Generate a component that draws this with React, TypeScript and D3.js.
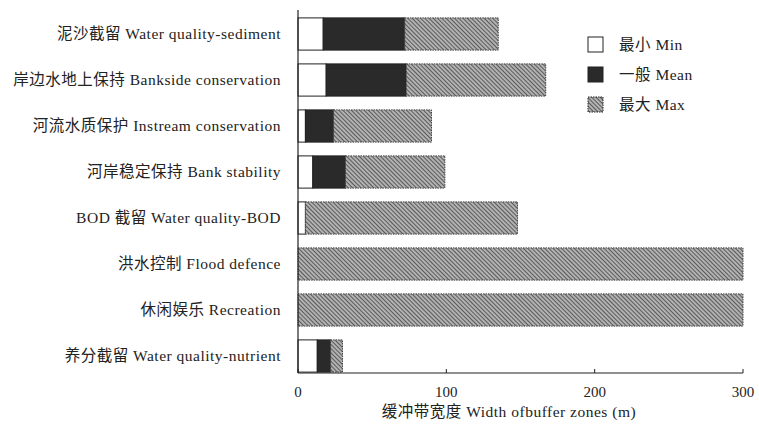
import React from "react";
import * as d3 from "d3";

const categories = [
  "泥沙截留 Water quality-sediment",
  "岸边水地上保持 Bankside conservation",
  "河流水质保护 Instream conservation",
  "河岸稳定保持 Bank stability",
  "BOD 截留 Water quality-BOD",
  "洪水控制 Flood defence",
  "休闲娱乐 Recreation",
  "养分截留 Water quality-nutrient",
];
const minVals = [17, 19, 5, 10, 5, 0, 0, 13];
const meanVals = [72, 73, 24, 32, 5, 0, 0, 22];
const maxVals = [135, 167, 90, 99, 148, 300, 300, 30];
const xTicks = [0, 100, 200, 300];
const legendLabels = ["最小 Min", "一般 Mean", "最大 Max"];

const W = 759, H = 429;
const FONT = "'Liberation Serif', 'Noto Sans CJK SC', serif";

export default function App() {
  const x = d3.scaleLinear().domain([0, 300]).range([298, 743]);
  const y = d3.scaleBand<string>().domain(categories).range([11, 379]).paddingInner(0.3).paddingOuter(0.15);
  const axisY = 373;
  const fills = ["#ffffff", "#2a2a2a", "url(#hatch)"];
  return (
    <svg width={W} height={H} style={{ position: "absolute", left: 0, top: 0, background: "#fff" }} fontFamily={FONT}>
      <defs>
        <pattern id="hatch" patternUnits="userSpaceOnUse" width={3} height={3} patternTransform="rotate(45)">
          <rect width={3} height={3} fill="#b4b4b4" />
          <line x1={0} y1={0.5} x2={3} y2={0.5} stroke="#5a5a5a" strokeWidth={1.1} />
        </pattern>
      </defs>
      {categories.map((c, i) => {
        const segs = [
          [0, minVals[i]],
          [minVals[i], meanVals[i]],
          [meanVals[i], maxVals[i]],
        ];
        const y0 = y(c)!;
        const bh = y.bandwidth();
        return (
          <g key={c}>
            {segs.map(([a, b], k) =>
              b > a ? (
                <rect
                  key={k}
                  x={x(a)}
                  y={y0}
                  width={x(b) - x(a)}
                  height={bh}
                  fill={fills[k]}
                  stroke={k === 2 ? "#444" : "#222"}
                  strokeWidth={1}
                  strokeDasharray={k === 2 ? "1.5,1" : undefined}
                />
              ) : null
            )}
            <text x={281} y={y0 + bh / 2} dy="0.35em" textAnchor="end" fontSize={15.5} letterSpacing={0.5} fill="#222">
              {c}
            </text>
          </g>
        );
      })}
      {/* axes */}
      <line x1={298} y1={10} x2={298} y2={axisY} stroke="#222" strokeWidth={1.2} />
      <line x1={298} y1={axisY} x2={x(300)} y2={axisY} stroke="#222" strokeWidth={1.2} />
      {xTicks.map((t) => (
        <g key={t}>
          <line x1={x(t)} x2={x(t)} y1={axisY} y2={axisY - 4} stroke="#222" />
          <text x={x(t)} y={397} textAnchor="middle" fontSize={15} fill="#222">
            {t}
          </text>
        </g>
      ))}
      <text x={509} y={417} textAnchor="middle" fontSize={15.5} letterSpacing={0.5} fill="#222">
        缓冲带宽度 Width ofbuffer zones (m)
      </text>
      {/* legend */}
      {legendLabels.map((l, k) => (
        <g key={l} transform={`translate(588, ${37 + k * 30})`}>
          <rect x={0} y={0} width={15} height={15} fill={fills[k]} stroke="#222" strokeWidth={1}
            strokeDasharray={k === 2 ? "1.5,1" : undefined} />
          <text x={31} y={7.5} dy="0.35em" fontSize={15.5} letterSpacing={0.5} fill="#222">
            {l}
          </text>
        </g>
      ))}
    </svg>
  );
}
